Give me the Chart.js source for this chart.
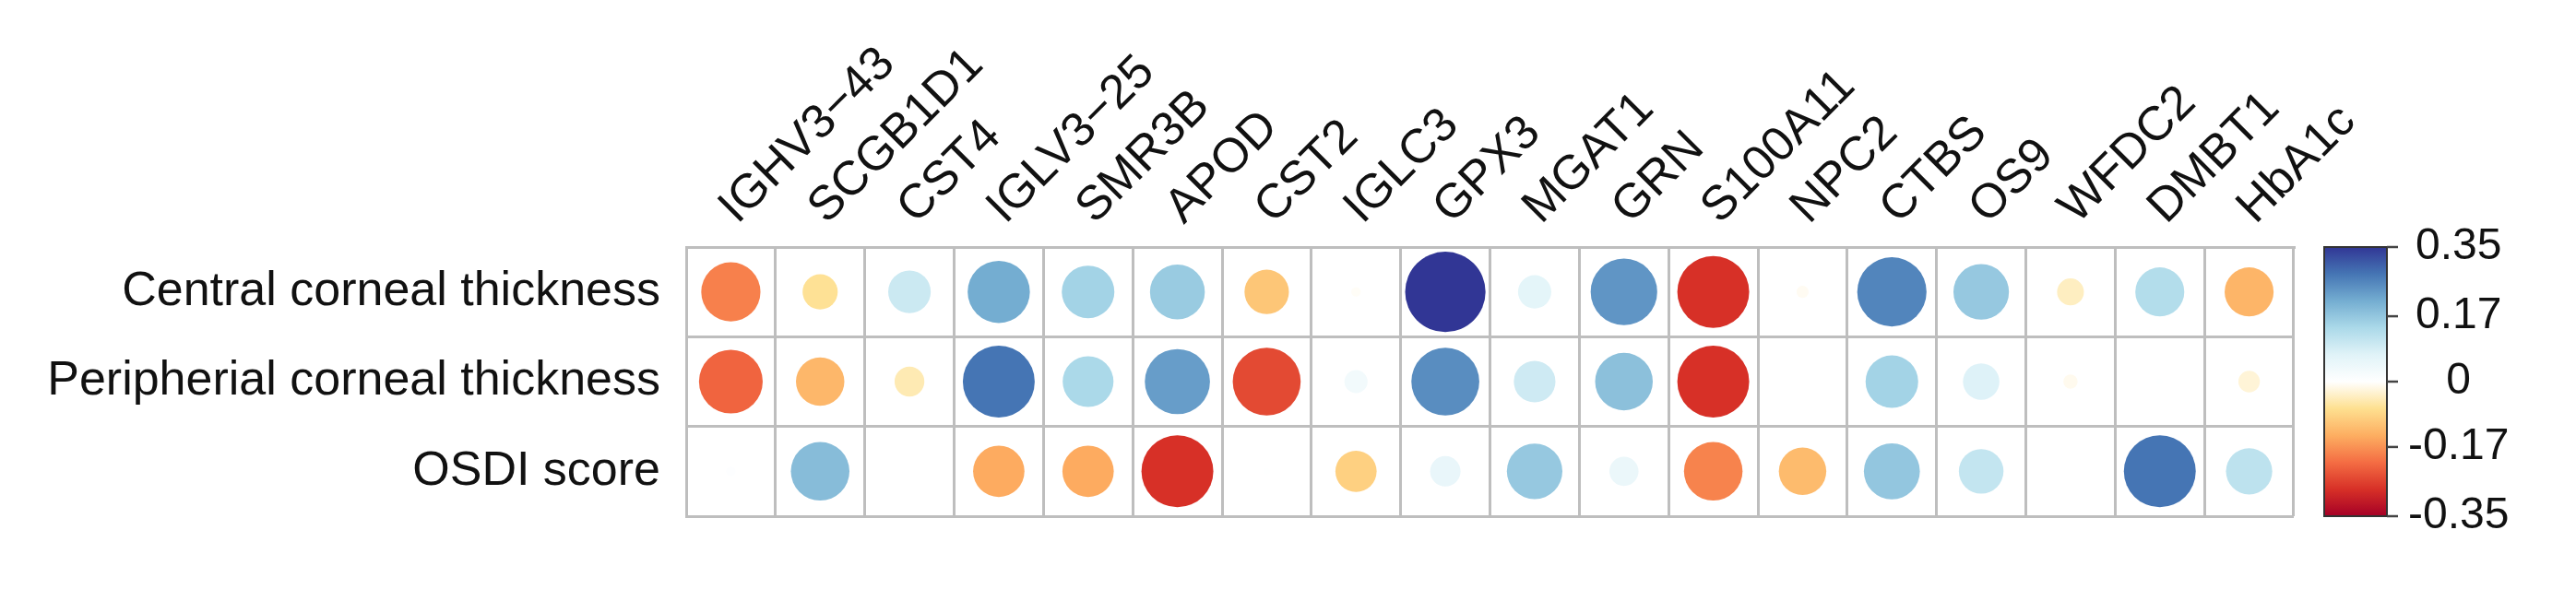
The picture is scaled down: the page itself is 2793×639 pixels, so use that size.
<!DOCTYPE html>
<html>
<head>
  <meta charset="utf-8">
  <script src="https://cdn.jsdelivr.net/npm/chart.js@4.4.1/dist/chart.umd.min.js"></script>
  <style>
    html, body { margin: 0; padding: 0; background: #fff; }
  </style>
</head>
<body>
  <canvas id="corrChart" width="2793" height="639"></canvas>

<script>
  // Genes along the top, clinical traits down the side.
  const genes = ['IGHV3\u221243', 'SCGB1D1', 'CST4', 'IGLV3\u221225', 'SMR3B', 'APOD', 'CST2', 'IGLC3', 'GPX3',
    'MGAT1', 'GRN', 'S100A11', 'NPC2', 'CTBS', 'OS9', 'WFDC2', 'DMBT1', 'HbA1c'];
  const traits = ['Central corneal thickness', 'Peripherial corneal thickness', 'OSDI score'];

  // Correlation values, one array per trait row.
  const centralCornealThickness = [-0.19, -0.067, 0.098, 0.21, 0.15, 0.163, -0.107, -0.005, 0.35,
    0.06, 0.24, -0.28, -0.008, 0.26, 0.167, -0.039, 0.13, -0.13];
  const peripheralCornealThickness = [-0.22, -0.127, -0.048, 0.28, 0.14, 0.23, -0.25, 0.029, 0.25,
    0.094, 0.18, -0.28, 0, 0.15, 0.072, -0.011, 0.002, -0.025];
  const osdiScore = [0.005, 0.186, 0, -0.143, -0.143, -0.28, 0.002, -0.092, 0.05,
    0.167, 0.046, -0.186, -0.122, 0.17, 0.108, 0, 0.28, 0.116];

  // Colour legend
  const colorbarTicks = [0.35, 0.17, 0, -0.17, -0.35];
  const colorMax = 0.35;

  // RdYlBu with a white middle, red (low) to blue (high)
  const palette = ['#A50026', '#D73027', '#F46D43', '#FDAE61', '#FEE090', '#FFFFFF',
    '#E0F3F8', '#ABD9E9', '#74ADD1', '#4575B4', '#313695'];

  function hexToRgb(h) {
    return [parseInt(h.slice(1, 3), 16), parseInt(h.slice(3, 5), 16), parseInt(h.slice(5, 7), 16)];
  }

  function colorFor(v) {
    let t = (Math.max(-colorMax, Math.min(colorMax, v)) / colorMax + 1) / 2 * (palette.length - 1);
    const i = Math.min(Math.floor(t), palette.length - 2);
    const f = t - i;
    const a = hexToRgb(palette[i]);
    const b = hexToRgb(palette[i + 1]);
    const c = a.map((x, k) => Math.round(x + (b[k] - x) * f));
    return 'rgb(' + c.join(',') + ')';
  }

  const rows = [centralCornealThickness, peripheralCornealThickness, osdiScore];
  const points = [];
  rows.forEach((row, r) => {
    row.forEach((v, c) => {
      points.push({ x: genes[c], y: traits[r], v: v });
    });
  });

  const FONT = "'Liberation Sans', Arial, Helvetica, sans-serif";
  Chart.defaults.font.family = FONT;
  Chart.defaults.color = '#111';

  // Draws the gradient bar next to the colour scale.
  const colorbarPlugin = {
    id: 'colorbar',
    afterDraw(chart) {
      const ctx = chart.ctx;
      const cb = chart.scales.cb;
      const top = cb.getPixelForValue(colorMax);
      const bottom = cb.getPixelForValue(-colorMax);
      const left = chart.chartArea.right + 33;
      const width = 68;

      const grad = ctx.createLinearGradient(0, top, 0, bottom);
      palette.slice().reverse().forEach((c, i) => grad.addColorStop(i / (palette.length - 1), c));

      ctx.save();
      ctx.fillStyle = grad;
      ctx.fillRect(left, top, width, bottom - top);
      ctx.strokeStyle = '#333';
      ctx.lineWidth = 2;
      ctx.strokeRect(left, top, width, bottom - top);

      // tick marks
      ctx.lineWidth = 2.5;
      ctx.strokeStyle = '#444';
      colorbarTicks.forEach((t) => {
        const y = cb.getPixelForValue(t);
        ctx.beginPath();
        ctx.moveTo(left + width, y);
        ctx.lineTo(left + width + 12, y);
        ctx.stroke();
      });
      ctx.restore();
    }
  };

  // keep the label overhang from shrinking the plot area
  function noPadding(scale) {
    scale.paddingTop = 0;
    scale.paddingBottom = 0;
    scale.paddingLeft = 0;
    scale.paddingRight = 0;
  }

  const gridColor = '#BEBEBE';

  new Chart(document.getElementById('corrChart'), {
    type: 'scatter',
    data: {
      datasets: [{
        data: points,
        xAxisID: 'x',
        yAxisID: 'y',
        showLine: false,
        pointBorderWidth: 0,
        pointBackgroundColor: (ctx) => colorFor(ctx.raw ? ctx.raw.v : 0),
        pointRadius: (ctx) => {
          const xs = ctx.chart.scales.x;
          const cell = xs.width / genes.length;
          const v = ctx.raw ? ctx.raw.v : 0;
          return 0.45 * cell * Math.sqrt(Math.abs(v) / colorMax);
        }
      }]
    },
    options: {
      responsive: false,
      animation: false,
      events: [],
      layout: { padding: { left: 0, right: 0, top: 0, bottom: 79 } },
      plugins: {
        legend: { display: false },
        tooltip: { enabled: false }
      },
      scales: {
        x: {
          type: 'category',
          labels: genes,
          position: 'top',
          offset: true,
          grid: { display: true, offset: true, color: gridColor, lineWidth: 3, drawTicks: false },
          border: { display: true, color: gridColor, width: 3 },
          ticks: {
            autoSkip: false,
            minRotation: 45,
            maxRotation: 45,
            padding: 12,
            labelOffset: 41,
            font: { size: 52 },
            color: '#111'
          },
          afterFit(scale) { scale.height = 268; noPadding(scale); }
        },
        y: {
          type: 'category',
          labels: traits,
          position: 'left',
          offset: true,
          grid: { display: true, offset: true, color: gridColor, lineWidth: 3, drawTicks: false },
          border: { display: true, color: gridColor, width: 3 },
          ticks: {
            padding: 28,
            font: { size: 52 },
            color: '#111'
          },
          afterFit(scale) { scale.width = 744; noPadding(scale); }
        },
        cb: {
          type: 'linear',
          position: 'right',
          min: -colorMax,
          max: colorMax,
          grid: { display: false, drawTicks: false },
          border: { display: false },
          afterBuildTicks(scale) {
            scale.ticks = colorbarTicks.map((value) => ({ value }));
          },
          ticks: {
            autoSkip: false,
            crossAlign: 'center',
            padding: 124,
            font: { size: 48 },
            color: '#111',
            callback: (value) => String(value)
          },
          afterFit(scale) { scale.width = 306; noPadding(scale); }
        }
      }
    },
    plugins: [colorbarPlugin]
  });
</script>
</body>
</html>
